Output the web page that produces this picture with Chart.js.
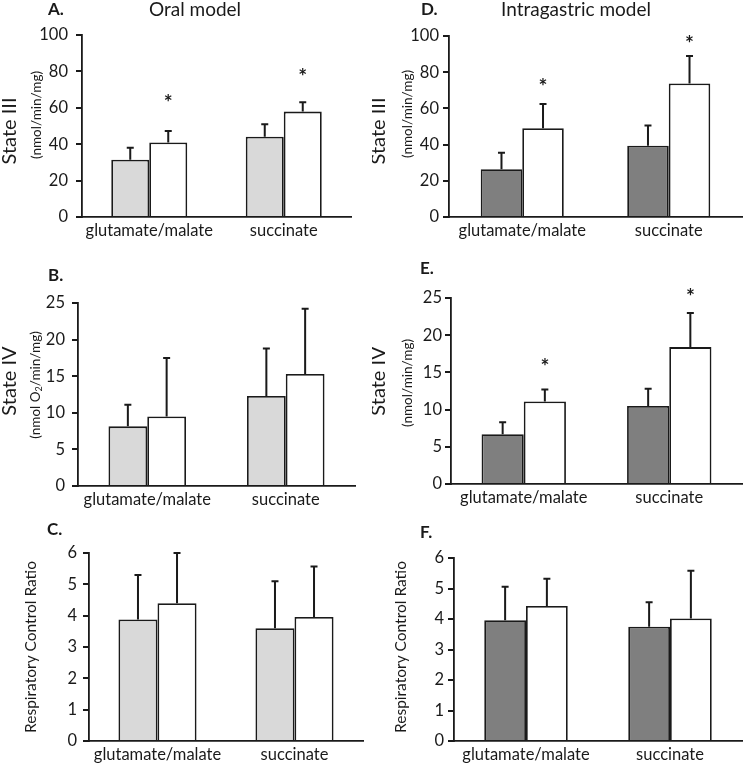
<!DOCTYPE html>
<html>
<head>
<meta charset="utf-8">
<script src="https://cdn.jsdelivr.net/npm/chart.js@4.4.0/dist/chart.umd.min.js"></script>
<style>
  body { margin: 0; background: #fff; }
  #wrap { position: relative; width: 745px; height: 763px; overflow: hidden; }
  canvas { position: absolute; }
</style>
</head>
<body>
<div id="wrap">
  <canvas id="pA" width="365" height="250" style="left:0;top:0"></canvas>
  <canvas id="pD" width="373" height="250" style="left:372px;top:0"></canvas>
  <canvas id="pB" width="365" height="262" style="left:0;top:250px"></canvas>
  <canvas id="pE" width="373" height="262" style="left:372px;top:250px"></canvas>
  <canvas id="pC" width="365" height="258" style="left:0;top:505px"></canvas>
  <canvas id="pF" width="373" height="258" style="left:372px;top:505px"></canvas>
</div>
<script>
const categories = ['glutamate/malate', 'succinate'];

// Oral model
const oralIIIGray = [31.5, 44.1];
const oralIIIGrayErr = [6.6, 6.8];
const oralIIIWhite = [41.0, 57.9];
const oralIIIWhiteErr = [6.3, 5.1];
const oralIIIStars = [65, 79];

const oralIVGray = [8.15, 12.3];
const oralIVGrayErr = [2.95, 6.5];
const oralIVWhite = [9.5, 15.3];
const oralIVWhiteErr = [8.0, 8.9];
const oralIVStars = [null, null];

const oralRCRGray = [3.88, 3.6];
const oralRCRGrayErr = [1.42, 1.5];
const oralRCRWhite = [4.4, 3.96];
const oralRCRWhiteErr = [1.6, 1.61];
const oralRCRStars = [null, null];

// Intragastric model
const igIIIGray = [26.4, 39.4];
const igIIIGrayErr = [9.1, 11.1];
const igIIIWhite = [49.0, 73.8];
const igIIIWhiteErr = [13.5, 15.1];
const igIIIStars = [74, 98];

const igIVGray = [6.7, 10.5];
const igIVGrayErr = [1.6, 2.3];
const igIVWhite = [11.1, 18.4];
const igIVWhiteErr = [1.6, 4.6];
const igIVStars = [16.3, 25.7];

const igRCRGray = [3.96, 3.75];
const igRCRGrayErr = [1.1, 0.8];
const igRCRWhite = [4.43, 4.02];
const igRCRWhiteErr = [0.89, 1.56];
const igRCRStars = [null, null];

const INK = '#1a1a1a';
const FONT = 'Lato, "Open Sans", sans-serif';
Chart.defaults.font.family = FONT;
Chart.defaults.color = INK;

function drawRotated(ctx, x, y, parts) {
  ctx.save();
  ctx.translate(x, y);
  ctx.rotate(-Math.PI / 2);
  ctx.textBaseline = 'middle';
  ctx.textAlign = 'left';
  let total = 0;
  parts.forEach(p => {
    ctx.font = p.size + 'px ' + FONT;
    p.w = ctx.measureText(p.text).width;
    total += p.w;
  });
  let cx = -total / 2;
  parts.forEach(p => {
    ctx.font = p.size + 'px ' + FONT;
    ctx.fillText(p.text, cx, p.dy || 0);
    cx += p.w;
  });
  ctx.restore();
}

function makePanel(id, o) {
  const cv = document.getElementById(id);
  const area = o.area;

  const extras = {
    id: 'extras_' + id,
    afterDatasetsDraw(chart) {
      const ctx = chart.ctx;
      const ys = chart.scales.y;
      ctx.save();
      ctx.strokeStyle = INK;
      ctx.lineWidth = 2;
      chart.data.datasets.forEach((ds, i) => {
        chart.getDatasetMeta(i).data.forEach((bar, j) => {
          const top = ys.getPixelForValue(ds.data[j] + ds.err[j]);
          ctx.beginPath();
          ctx.moveTo(bar.x, bar.y);
          ctx.lineTo(bar.x, top);
          ctx.moveTo(bar.x - 3.5, top);
          ctx.lineTo(bar.x + 3.5, top);
          ctx.stroke();
          if (ds.stars && ds.stars[j] != null) {
            ctx.fillStyle = INK;
            ctx.font = 'bold 21px ' + FONT;
            ctx.textAlign = 'center';
            ctx.textBaseline = 'alphabetic';
            ctx.fillText('*', bar.x, ys.getPixelForValue(ds.stars[j]) + 11);
          }
        });
      });
      ctx.restore();
    },
    afterDraw(chart) {
      const ctx = chart.ctx;
      ctx.save();
      ctx.fillStyle = INK;
      ctx.textBaseline = 'middle';
      ctx.textAlign = 'left';
      ctx.font = 'bold 17px ' + FONT;
      ctx.fillText(o.letter[0], o.letter[1], o.letter[2]);
      if (o.heading) {
        ctx.textAlign = 'center';
        ctx.font = '19px ' + FONT;
        ctx.fillText(o.heading[0], o.heading[1], o.heading[2]);
      }
      o.ytitles.forEach(t => drawRotated(ctx, t.x, t.y, t.parts));
      ctx.restore();
    }
  };

  new Chart(cv, {
    type: 'bar',
    data: {
      labels: categories,
      datasets: [
        { data: o.gray, err: o.grayErr, backgroundColor: o.fill, borderColor: INK, borderWidth: 1.8 },
        { data: o.white, err: o.whiteErr, stars: o.stars, backgroundColor: '#fff', borderColor: INK, borderWidth: 1.8 }
      ]
    },
    options: {
      responsive: false,
      animation: false,
      devicePixelRatio: 1,
      categoryPercentage: o.catPct,
      barPercentage: 1,
      layout: { padding: { top: area.top, right: cv.width - area.right, left: 0, bottom: 0 } },
      plugins: { legend: { display: false }, tooltip: { enabled: false } },
      scales: {
        x: {
          grid: { display: false, drawTicks: false },
          border: { display: true, color: INK, width: 1.8 },
          ticks: { color: INK, font: { size: 16.5 }, padding: 4, maxRotation: 0 },
          afterFit: s => { s.height = cv.height - area.bottom; }
        },
        y: {
          min: 0,
          max: o.max,
          ticks: {
            stepSize: o.step,
            color: INK,
            font: { size: 16.5 },
            padding: o.tickPad,
            callback: v => (v % o.labelStep === 0 ? v : '')
          },
          grid: { drawOnChartArea: false, drawTicks: true, tickLength: 6, color: INK, lineWidth: 2 },
          border: { display: true, color: INK, width: 1.8 },
          afterFit: s => { s.width = area.left; }
        }
      }
    },
    plugins: [extras]
  });
}

const LIGHT = '#d9d9d9';
const DARK = '#7f7f7f';

makePanel('pA', {
  gray: oralIIIGray, grayErr: oralIIIGrayErr, white: oralIIIWhite, whiteErr: oralIIIWhiteErr, stars: oralIIIStars,
  fill: LIGHT, max: 100, step: 10, labelStep: 20, catPct: 0.565, tickPad: 8,
  area: { left: 82, top: 35, right: 351, bottom: 217 },
  letter: ['A.', 48, 10], heading: ['Oral model', 195, 10],
  ytitles: [
    { x: 10, y: 131, parts: [{ text: 'State III', size: 20 }] },
    { x: 37, y: 115, parts: [{ text: '(nmol/min/mg)', size: 13.5 }] }
  ]
});

makePanel('pD', {
  gray: igIIIGray, grayErr: igIIIGrayErr, white: igIIIWhite, whiteErr: igIIIWhiteErr, stars: igIIIStars,
  fill: DARK, max: 100, step: 10, labelStep: 20, catPct: 0.567, tickPad: 4,
  area: { left: 77, top: 36, right: 370, bottom: 217 },
  letter: ['D.', 49, 10], heading: ['Intragastric model', 204, 10],
  ytitles: [
    { x: 7, y: 131, parts: [{ text: 'State III', size: 20 }] },
    { x: 36, y: 114, parts: [{ text: '(nmol/min/mg)', size: 13.5 }] }
  ]
});

makePanel('pB', {
  gray: oralIVGray, grayErr: oralIVGrayErr, white: oralIVWhite, whiteErr: oralIVWhiteErr, stars: oralIVStars,
  fill: LIGHT, max: 25, step: 5, labelStep: 5, catPct: 0.56, tickPad: 7,
  area: { left: 78, top: 53, right: 355, bottom: 236 },
  letter: ['B.', 48, 26], heading: null,
  ytitles: [
    { x: 10, y: 131, parts: [{ text: 'State IV', size: 20 }] },
    { x: 36, y: 135, parts: [{ text: '(nmol O', size: 13.5 }, { text: '2', size: 9, dy: 3 }, { text: '/min/mg)', size: 13.5 }] }
  ]
});

makePanel('pE', {
  gray: igIVGray, grayErr: igIVGrayErr, white: igIVWhite, whiteErr: igIVWhiteErr, stars: igIVStars,
  fill: DARK, max: 25, step: 5, labelStep: 5, catPct: 0.58, tickPad: 3,
  area: { left: 79, top: 48, right: 370, bottom: 234 },
  letter: ['E.', 48, 19], heading: null,
  ytitles: [
    { x: 7, y: 131, parts: [{ text: 'State IV', size: 20 }] },
    { x: 36, y: 133, parts: [{ text: '(nmol/min/mg)', size: 13.5 }] }
  ]
});

makePanel('pC', {
  gray: oralRCRGray, grayErr: oralRCRGrayErr, white: oralRCRWhite, whiteErr: oralRCRWhiteErr, stars: oralRCRStars,
  fill: LIGHT, max: 6, step: 1, labelStep: 1, catPct: 0.57, tickPad: 6,
  area: { left: 89, top: 48, right: 363, bottom: 236 },
  letter: ['C.', 47, 25], heading: null,
  ytitles: [
    { x: 31, y: 142, parts: [{ text: 'Respiratory Control Ratio', size: 15.5 }] }
  ]
});

makePanel('pF', {
  gray: igRCRGray, grayErr: igRCRGrayErr, white: igRCRWhite, whiteErr: igRCRWhiteErr, stars: igRCRStars,
  fill: DARK, max: 6, step: 1, labelStep: 1, catPct: 0.58, tickPad: 4,
  area: { left: 82, top: 53, right: 370, bottom: 236 },
  letter: ['F.', 48, 28], heading: null,
  ytitles: [
    { x: 29, y: 142, parts: [{ text: 'Respiratory Control Ratio', size: 15.5 }] }
  ]
});
</script>
</body>
</html>
